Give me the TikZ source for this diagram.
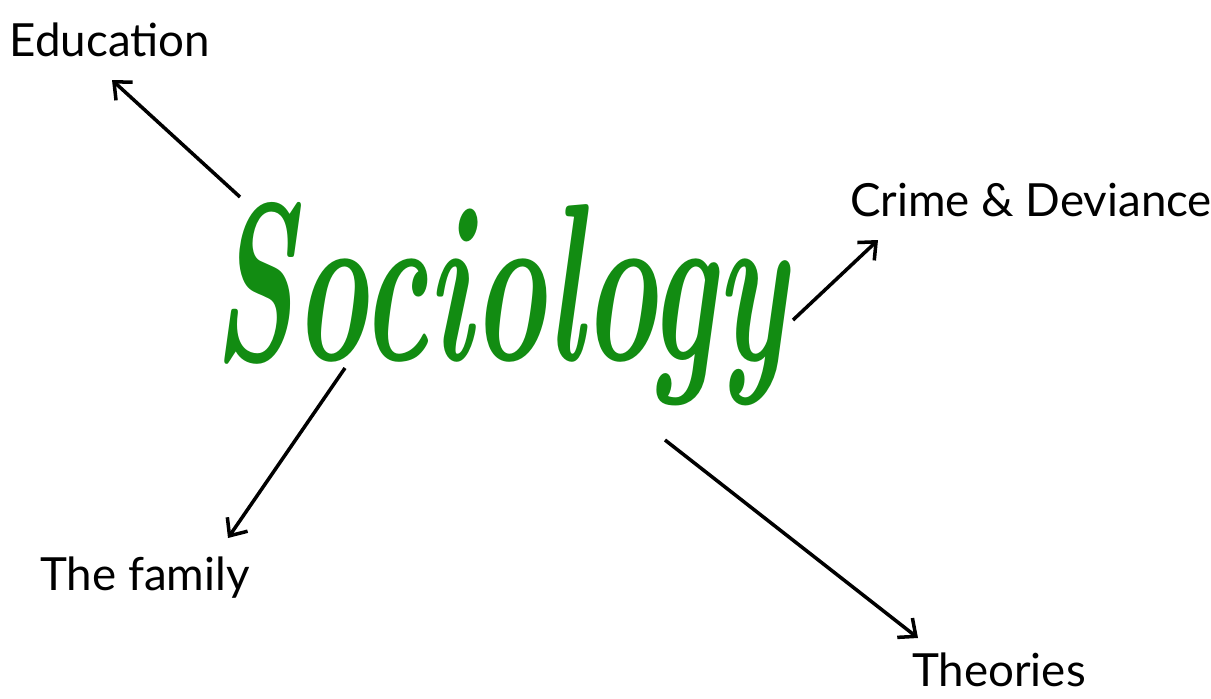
\documentclass[tikz,border=0pt]{standalone}
\usepackage{fontspec}
\usepackage{xcolor}
\usetikzlibrary{arrows.meta,positioning}
\newfontfamily\labelfont{Lato}
\definecolor{socgreen}{RGB}{18,140,18}

\begin{document}
\begin{tikzpicture}[x=0.02cm,y=-0.02cm,
	arr/.style={line width=2pt,-{Straight Barb[length=8pt,width=14pt,line width=2pt]}},
	lbl/.style={font=\labelfont\fontsize{26}{30}\selectfont,inner sep=0pt}]
	\useasboundingbox (0,0) rectangle (1211,698);
	% the title word
	\node[socgreen,anchor=base,xscale=0.89,yscale=1.6,inner sep=0pt] (soc) at (500,360) {\fontsize{80}{90}\selectfont\bfseries\itshape Sociology};
	% the four topics
	\node[lbl] (edu) at (110,40) {Education};
	\node[lbl] (crime) at (1031,200) {Crime \& Deviance};
	\node[lbl] (family) at (145,578) {The family};
	\node[lbl] (theo) at (999,670) {Theories};
	% arrow ends
	\coordinate (s1) at (240,197);
	\coordinate (t1) at (112,80);
	\coordinate (s2) at (793,320);
	\coordinate (t2) at (878,240);
	\coordinate (s3) at (345,368);
	\coordinate (t3) at (228,538);
	\coordinate (s4) at (665,440);
	\coordinate (t4) at (918,638);
	\draw[arr] (s1) -- (t1);
	\draw[arr] (s2) -- (t2);
	\draw[arr] (s3) -- (t3);
	\draw[arr] (s4) -- (t4);
\end{tikzpicture}
\end{document}
